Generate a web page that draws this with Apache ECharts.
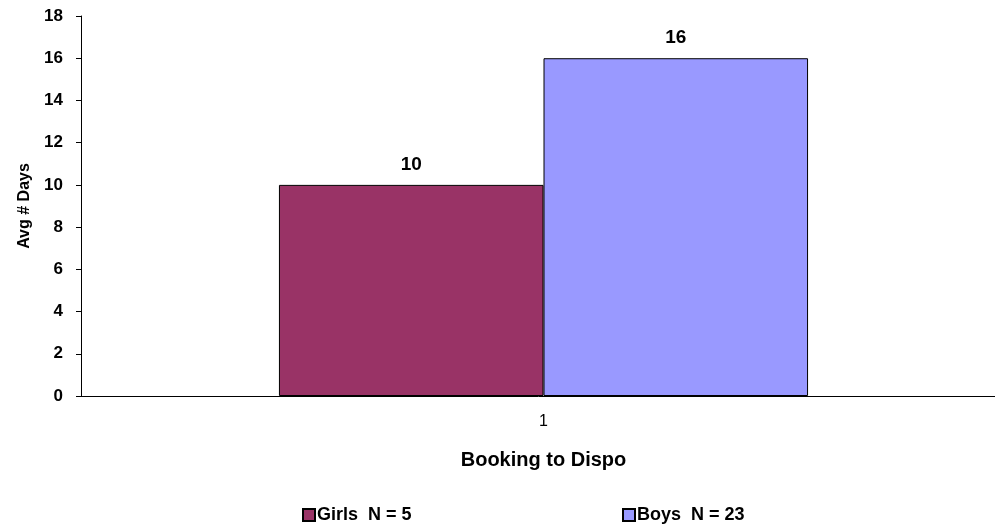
<!DOCTYPE html>
<html>
<head>
<meta charset="utf-8">
<script src="https://cdn.jsdelivr.net/npm/echarts@6/dist/echarts.min.js"></script>
<style>html,body{margin:0;padding:0;background:#fff;}#c{width:995px;height:525px;}</style>
</head>
<body>
<div id="c"></div>
<script>
const categories = ['1'];
const girls = [10];
const boys = [16];
const seriesNames = ['Girls  N = 5', 'Boys  N = 23'];
const yTicks = {min: 0, max: 18, interval: 2};

const font = 'Arial, "Liberation Sans", sans-serif';
const chart = echarts.init(document.getElementById('c'));
const legendText = {fontFamily: font, fontWeight: 'bold', fontSize: 18, color: '#000', padding: [0,0,0,-3]};
chart.setOption({
  animation: false,
  backgroundColor: '#fff',
  textStyle: {fontFamily: font},
  grid: {left: 81, right: -11, top: 16, bottom: 129, containLabel: false, outerBoundsMode: 'none'},
  legend: [
    {data: [seriesNames[0]], left: 302, top: 506, padding: 0, icon: 'rect', itemWidth: 12, itemHeight: 12, itemGap: 0, textStyle: legendText},
    {data: [seriesNames[1]], left: 622, top: 506, padding: 0, icon: 'rect', itemWidth: 12, itemHeight: 12, itemGap: 0, textStyle: legendText}
  ],
  xAxis: {
    type: 'category', data: categories,
    name: 'Booking to Dispo', nameLocation: 'middle', nameGap: 54,
    nameTextStyle: {fontFamily: font, fontWeight: 'bold', fontSize: 20, color: '#000'},
    axisLine: {lineStyle: {color: '#000', width: 1}},
    axisTick: {show: false},
    axisLabel: {color: '#000', fontSize: 16, margin: 18, fontFamily: font}
  },
  yAxis: {
    type: 'value', min: yTicks.min, max: yTicks.max, interval: yTicks.interval,
    name: 'Avg # Days', nameLocation: 'middle', nameGap: 48, nameRotate: 90,
    nameTextStyle: {fontFamily: font, fontWeight: 'bold', fontSize: 16, color: '#000'},
    axisLine: {show: true, lineStyle: {color: '#000', width: 1}},
    axisTick: {show: true, length: 5, lineStyle: {color: '#000'}},
    splitLine: {show: false},
    axisLabel: {color: '#000', fontWeight: 'bold', fontSize: 17, margin: 18, fontFamily: font}
  },
  series: [
    {name: seriesNames[0], type: 'bar', data: girls, barGap: '0%', barCategoryGap: '42.8%',
     itemStyle: {color: '#993366', borderColor: '#000', borderWidth: 1},
     label: {show: true, position: 'top', distance: 11, color: '#000', fontWeight: 'bold', fontSize: 19, fontFamily: font}},
    {name: seriesNames[1], type: 'bar', data: boys, barGap: '0%', barCategoryGap: '42.8%',
     itemStyle: {color: '#9999FF', borderColor: '#000', borderWidth: 1},
     label: {show: true, position: 'top', distance: 11, color: '#000', fontWeight: 'bold', fontSize: 19, fontFamily: font}}
  ]
});
</script>
</body>
</html>
